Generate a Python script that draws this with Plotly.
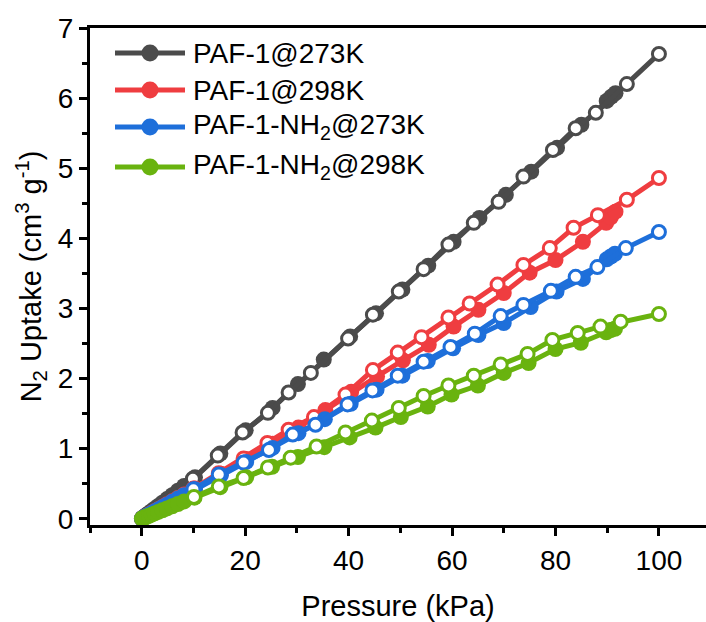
import plotly.graph_objects as go

# ---------------- data ----------------
series_names = ["PAF-1@273K", "PAF-1@298K",
                "PAF-1-NH<sub>2</sub>@273K", "PAF-1-NH<sub>2</sub>@298K"]
series_colors = ["#4b4b4b", "#ef3d40", "#1e6fda", "#69b30f"]

x_tick_vals = [0, 20, 40, 60, 80, 100]
y_tick_vals = [0, 1, 2, 3, 4, 5, 6, 7]

# PAF-1 @ 273 K
p273_ads_p = [0.05, 0.15, 0.3, 0.5, 0.75, 1.0, 1.4, 1.9, 2.5, 3.2, 4.0, 4.9, 5.9, 7.0, 8.2,
              10.3, 15.2, 20.1, 25.3, 30.2, 35.2, 40.3, 45.3, 50.4, 55.4, 60.3, 65.3, 70.4,
              75.3, 80.3, 85.0, 89.9, 90.8, 91.6]
p273_ads_u = [0.003, 0.009, 0.017, 0.029, 0.043, 0.057, 0.08, 0.108, 0.142, 0.182, 0.228, 0.28,
              0.336, 0.40, 0.468, 0.59, 0.93, 1.26, 1.58, 1.92, 2.27, 2.60, 2.93, 3.27, 3.61,
              3.95, 4.29, 4.62, 4.95, 5.29, 5.62, 5.96, 6.02, 6.07]
p273_des_p = [100, 93.8, 87.8, 83.9, 79.5, 73.8, 69.0, 64.2, 59.3, 54.5, 49.7, 44.7, 39.9,
              32.7, 28.4, 24.4, 19.5, 14.7, 9.9]
p273_des_u = [6.63, 6.20, 5.79, 5.57, 5.26, 4.88, 4.52, 4.22, 3.91, 3.56, 3.24, 2.91, 2.57,
              2.08, 1.80, 1.51, 1.23, 0.90, 0.57]

# PAF-1 @ 298 K
p298_ads_p = [0.05, 0.15, 0.3, 0.5, 0.75, 1.0, 1.4, 1.9, 2.5, 3.2, 4.0, 4.9, 5.9, 7.0, 8.2,
              10.3, 15.3, 20.2, 25.3, 30.3, 35.5, 40.5, 45.5, 50.5, 55.5, 60.3, 65.1, 70.0,
              75.0, 80.0, 85.3, 89.8, 90.7, 91.6]
p298_ads_u = [0.002, 0.006, 0.013, 0.021, 0.032, 0.042, 0.059, 0.08, 0.105, 0.134, 0.168,
              0.206, 0.248, 0.294, 0.344, 0.43, 0.64, 0.85, 1.07, 1.30, 1.55, 1.81, 2.03,
              2.26, 2.48, 2.74, 2.98, 3.22, 3.51, 3.69, 3.95, 4.22, 4.30, 4.38]
p298_des_p = [100, 93.8, 88.2, 83.5, 78.9, 73.8, 68.8, 63.4, 59.3, 54.1, 49.5, 44.7, 39.4,
              33.3, 28.4, 24.3, 19.7, 14.9, 10.0]
p298_des_u = [4.86, 4.55, 4.33, 4.15, 3.86, 3.62, 3.34, 3.07, 2.87, 2.59, 2.37, 2.12, 1.77,
              1.45, 1.27, 1.08, 0.86, 0.65, 0.43]

# PAF-1-NH2 @ 273 K
n273_ads_p = [0.05, 0.15, 0.3, 0.5, 0.75, 1.0, 1.4, 1.9, 2.5, 3.2, 4.0, 4.9, 5.9, 7.0, 8.2,
              10.3, 15.3, 20.2, 25.3, 30.3, 35.4, 40.4, 45.4, 50.4, 55.3, 60.2, 65.1, 70.0,
              75.2, 80.2, 85.3, 89.9, 90.7, 91.5]
n273_ads_u = [0.002, 0.006, 0.012, 0.021, 0.031, 0.041, 0.057, 0.078, 0.103, 0.131, 0.164,
              0.2, 0.242, 0.287, 0.336, 0.42, 0.62, 0.81, 1.01, 1.22, 1.42, 1.64, 1.84, 2.04,
              2.25, 2.43, 2.62, 2.79, 3.02, 3.24, 3.42, 3.70, 3.74, 3.78]
n273_des_p = [100, 93.6, 88.1, 83.9, 79.1, 73.8, 69.4, 64.4, 59.7, 54.5, 49.5, 44.6, 39.8,
              33.6, 29.2, 24.6, 19.7, 14.9, 10.0]
n273_des_u = [4.09, 3.86, 3.59, 3.45, 3.25, 3.05, 2.89, 2.64, 2.45, 2.24, 2.04, 1.83, 1.63,
              1.34, 1.20, 0.98, 0.80, 0.63, 0.42]

# PAF-1-NH2 @ 298 K
n298_ads_p = [0.05, 0.15, 0.3, 0.5, 0.75, 1.0, 1.4, 1.9, 2.5, 3.2, 4.0, 4.9, 5.9, 7.0, 8.2,
              10.2, 15.2, 20.2, 25.2, 30.2, 35.3, 40.2, 45.2, 50.1, 55.3, 59.9, 65.0, 70.0,
              74.8, 80.0, 84.9, 89.8, 90.7, 91.5]
n298_ads_u = [0.0015, 0.0045, 0.009, 0.015, 0.023, 0.03, 0.042, 0.057, 0.075, 0.096, 0.12,
              0.147, 0.177, 0.21, 0.246, 0.30, 0.45, 0.59, 0.74, 0.88, 1.02, 1.16, 1.30,
              1.45, 1.60, 1.77, 1.90, 2.08, 2.22, 2.42, 2.51, 2.66, 2.69, 2.71]
n298_des_p = [100, 92.6, 88.7, 84.3, 79.4, 74.6, 69.4, 64.2, 59.3, 54.5, 49.7, 44.5, 39.4,
              33.8, 28.8, 24.4, 19.7, 14.9, 10.1]
n298_des_u = [2.92, 2.81, 2.74, 2.65, 2.55, 2.35, 2.20, 2.04, 1.90, 1.75, 1.58, 1.40, 1.23,
              1.03, 0.87, 0.73, 0.58, 0.46, 0.31]

ads_sets = [(p273_ads_p, p273_ads_u), (p298_ads_p, p298_ads_u),
            (n273_ads_p, n273_ads_u), (n298_ads_p, n298_ads_u)]
des_sets = [(p273_des_p, p273_des_u), (p298_des_p, p298_des_u),
            (n273_des_p, n273_des_u), (n298_des_p, n298_des_u)]

# ---------------- figure ----------------
W, H = 706, 622
ML, MR, MT, MB = 90, 0, 28, 97
FONT = "Liberation Sans, Arial, sans-serif"
FS = 28
FS_TITLE = 29

fig = go.Figure()
for name, color, (ap, au), (dp, du) in zip(series_names, series_colors, ads_sets, des_sets):
    fig.add_trace(go.Scatter(
        x=ap, y=au, mode="lines+markers", name=name, showlegend=False,
        line=dict(color=color, width=5),
        marker=dict(symbol="circle", size=16, color=color, line=dict(width=0)),
    ))
    fig.add_trace(go.Scatter(
        x=dp, y=du, mode="lines+markers", name=name + " (desorption)", showlegend=False,
        line=dict(color=color, width=5),
        marker=dict(symbol="circle", size=13, color="white", line=dict(color=color, width=3)),
    ))

# manual legend (long line + dot + label), positioned in pixels
plot_w = W - ML - MR
plot_h = H - MT - MB


def px_x(px):
    return (px - ML) / plot_w


def px_y(py):
    return (H - MB - py) / plot_h


legend_rows = [53, 90, 127, 167]
shapes = []
annotations = []
for name, color, row in zip(series_names, series_colors, legend_rows):
    shapes.append(dict(type="line", xref="paper", yref="paper",
                       x0=px_x(115), x1=px_x(185), y0=px_y(row), y1=px_y(row),
                       line=dict(color=color, width=5)))
    shapes.append(dict(type="circle", xref="paper", yref="paper",
                       xsizemode="pixel", ysizemode="pixel",
                       xanchor=px_x(150), yanchor=px_y(row),
                       x0=-8.5, x1=8.5, y0=-8.5, y1=8.5,
                       fillcolor=color, line=dict(width=0)))
    annotations.append(dict(xref="paper", yref="paper", x=px_x(191), y=px_y(row),
                            xanchor="left", yanchor="middle", showarrow=False,
                            text=name, font=dict(family=FONT, size=FS, color="black")))

fig.update_layout(
    width=W, height=H,
    margin=dict(l=ML, r=MR, t=MT, b=MB, pad=0),
    paper_bgcolor="white", plot_bgcolor="white",
    font=dict(family=FONT, size=FS, color="black"),
    shapes=shapes, annotations=annotations,
    showlegend=False,
)
fig.update_xaxes(
    range=[-10, 109.1], tickvals=x_tick_vals, ticks="outside", ticklen=8, tickwidth=3,
    tickcolor="black", showline=True, linewidth=3, linecolor="black", mirror=True,
    showgrid=False, zeroline=False,
    minor=dict(dtick=10, tick0=0, ticks="outside", ticklen=5, tickwidth=3, tickcolor="black"),
    tickfont=dict(family=FONT, size=FS),
    title=dict(text="Pressure (kPa)", font=dict(family=FONT, size=FS_TITLE), standoff=22),
    automargin=False,
)
fig.update_yaxes(
    range=[-0.09, 7.0], tickvals=y_tick_vals, ticks="outside", ticklen=8, tickwidth=3,
    tickcolor="black", showline=True, linewidth=3, linecolor="black", mirror=False,
    showgrid=False, zeroline=False,
    minor=dict(dtick=0.5, tick0=0, ticks="outside", ticklen=5, tickwidth=3, tickcolor="black"),
    tickfont=dict(family=FONT, size=FS),
    title=dict(text="N<sub>2</sub> Uptake (cm<sup>3</sup> g<sup>-1</sup>)",
               font=dict(family=FONT, size=FS_TITLE), standoff=8),
    automargin=False,
)

fig.write_html("out.html")
